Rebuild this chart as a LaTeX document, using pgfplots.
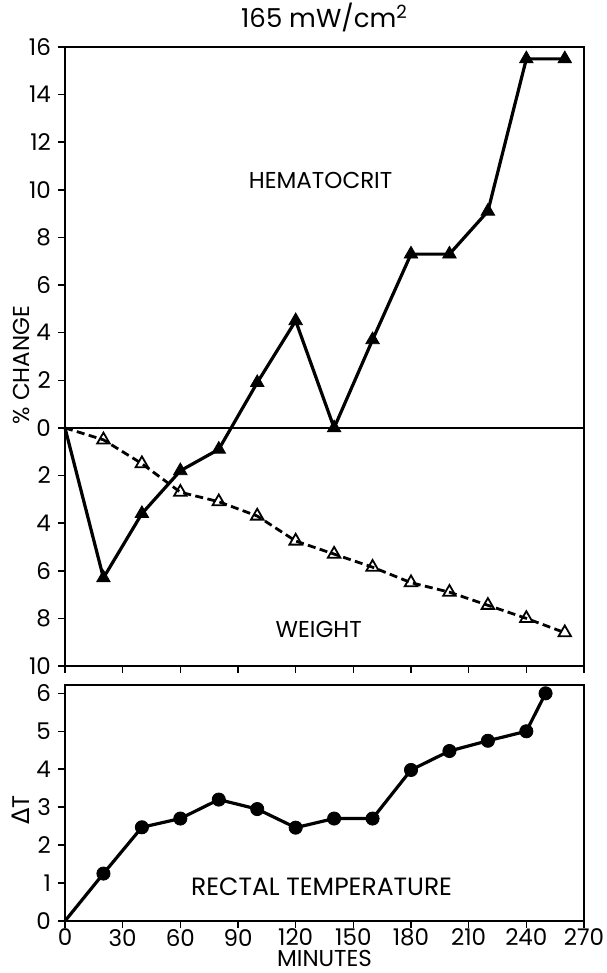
\documentclass[border=0pt]{standalone}
\usepackage{pgfplots}
\pgfplotsset{compat=1.18}
\usepackage{fontspec}
\setmainfont{Poppins}
\newfontfamily\grk{DejaVu Sans}
\pgfplotstableread{
x y
0 0
20 -6.3
40 -3.6
60 -1.8
80 -0.9
100 1.9
120 4.5
140 0
160 3.7
180 7.3
200 7.3
220 9.1
240 15.5
260 15.5
}\hema
\pgfplotstableread{
x y
0 0
20 -0.5
40 -1.5
60 -2.7
80 -3.1
100 -3.7
120 -4.75
140 -5.3
160 -5.85
180 -6.5
200 -6.9
220 -7.45
240 -8.0
260 -8.6
}\weight
\pgfplotstableread{
x y
0 0
20 1.25
40 2.47
60 2.7
80 3.2
100 2.95
120 2.46
140 2.7
160 2.7
180 3.98
200 4.48
220 4.75
240 5.0
250 6.0
}\temp
\begin{document}
\begin{tikzpicture}
\useasboundingbox (0,0) rectangle (303pt,486.5pt);
\pgfplotsset{
  base/.style={
    scale only axis, width=259.5pt, anchor=south west,
    xmin=0, xmax=270, xtick={0,30,...,270},
    tick align=outside, xtick pos=left, ytick pos=left,
    axis line style={line width=0.75pt}, major tick style={line width=0.75pt, black},
    major tick length=3.5pt,
    ticklabel style={font=\fontsize{11.5}{13}\selectfont},
    xticklabel style={yshift=3pt},
    /pgf/number format/assume math mode=true,
    clip=false,
  }
}
\begin{axis}[base, at={(32.5pt,153.5pt)}, height=309.5pt,
  ymin=-10, ymax=16, xticklabels={},
  ytick={-10,-8,...,16}, yticklabels={10,8,6,4,2,0,2,4,6,8,10,12,14,16}]
\addplot[line width=0.75pt] coordinates {(0,0) (270,0)};
\addplot[line width=1.4pt, dash pattern=on 4pt off 2.2pt] table[x=x,y=y] {\weight};
\addplot[only marks, mark=triangle, mark size=3.6pt, mark options={solid, fill=white, line width=0.9pt}, skip coords between index={0}{1}] table[x=x,y=y] {\weight};
\addplot[line width=1.6pt] table[x=x,y=y] {\hema};
\addplot[only marks, mark=triangle*, mark size=3.9pt, skip coords between index={0}{1}] table[x=x,y=y] {\hema};
\node[font=\fontsize{11.5}{13}\selectfont] at (axis cs:133,10.4) {HEMATOCRIT};
\node[font=\fontsize{11.5}{13}\selectfont] at (axis cs:132,-8.45) {WEIGHT};
\node[font=\fontsize{13}{15}\selectfont] at ([yshift=15pt]rel axis cs:0.5,1) {165 mW/cm\textsuperscript{2}};
\node[font=\fontsize{11.5}{13}\selectfont, rotate=90] at ([xshift=-22pt]rel axis cs:0,0.486) {\% CHANGE};
\end{axis}
\begin{axis}[base, at={(32.5pt,26pt)}, height=118pt,
  ymin=0, ymax=6.22, ytick={0,1,...,6}]
\addplot[line width=1.6pt] table[x=x,y=y] {\temp};
\addplot[only marks, mark=*, mark size=3.3pt, skip coords between index={0}{1}] table[x=x,y=y] {\temp};
\node[font=\fontsize{12.5}{14}\selectfont] at (axis cs:133.5,0.9) {RECTAL TEMPERATURE};
\node[font=\fontsize{12}{14}\selectfont, rotate=90] at ([xshift=-22pt]rel axis cs:0,0.47) {{\grk Δ}T};
\node[font=\fontsize{11.5}{13}\selectfont, inner sep=0pt] at ([yshift=-18.5pt]rel axis cs:0.5,0) {MINUTES};
\end{axis}
\end{tikzpicture}
\end{document}
